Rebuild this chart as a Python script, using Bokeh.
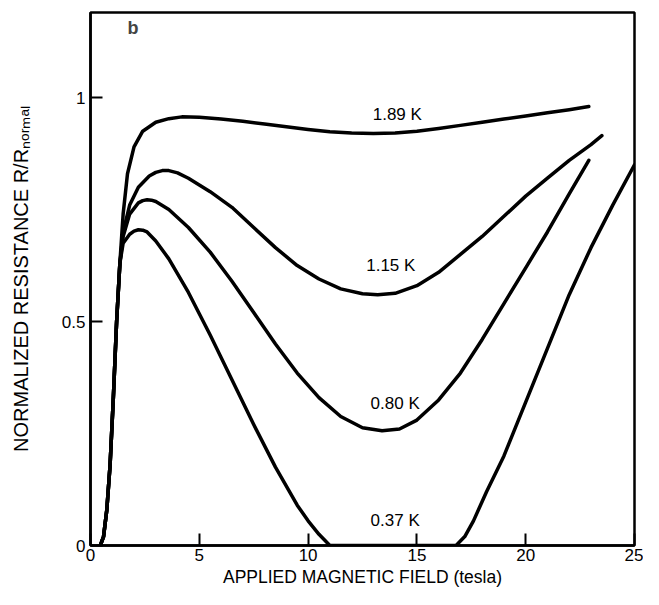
from bokeh.plotting import figure
from bokeh.models import Range1d, Label, FixedTicker, ColumnDataSource
from bokeh.embed import file_html
from bokeh.resources import INLINE
from bokeh.core.properties import value

# ---- data (field in tesla, R/R_normal) ----
field_189 = [0.45, 0.6, 0.75, 0.9, 1.05, 1.2, 1.35, 1.5, 1.7, 2.0, 2.4, 3.0, 3.6, 4.2, 5.0, 6.0, 7.0,
             8.0, 9.0, 10.0, 11.0, 12.0, 13.0, 14.0, 15.0, 16.0, 17.0, 18.0, 19.0, 20.0, 21.0, 22.0, 22.9]
r_189 = [0.0, 0.02, 0.08, 0.18, 0.33, 0.5, 0.63, 0.74, 0.83, 0.89, 0.925, 0.945, 0.953, 0.957, 0.956, 0.952, 0.947,
         0.941, 0.935, 0.929, 0.924, 0.921, 0.92, 0.921, 0.925, 0.931, 0.938, 0.945, 0.952, 0.959, 0.966, 0.973, 0.98]

field_115 = [0.45, 0.6, 0.75, 0.9, 1.05, 1.2, 1.35, 1.5, 1.8, 2.2, 2.7, 3.0, 3.3, 3.6, 4.0, 4.5, 5.5, 6.5, 7.5, 8.5, 9.5,
             10.5, 11.5, 12.5, 13.2, 14.0, 15.0, 16.0, 17.0, 18.0, 19.0, 20.0, 21.0, 22.0, 23.0, 23.5]
r_115 = [0.0, 0.02, 0.08, 0.18, 0.33, 0.5, 0.63, 0.70, 0.76, 0.80, 0.825, 0.833, 0.837, 0.837, 0.832, 0.82, 0.79, 0.755,
         0.71, 0.665, 0.625, 0.595, 0.573, 0.562, 0.56, 0.563, 0.58, 0.61, 0.65, 0.69, 0.735, 0.78, 0.82, 0.86, 0.895, 0.915]

field_080 = [0.45, 0.6, 0.75, 0.9, 1.05, 1.2, 1.35, 1.5, 1.8, 2.2, 2.4, 2.6, 2.8, 3.0, 3.6, 4.5, 5.5, 6.5, 7.5, 8.5, 9.5,
             10.5, 11.5, 12.5, 13.4, 14.2, 15.0, 16.0, 17.0, 18.0, 19.0, 20.0, 21.0, 22.0, 22.9]
r_080 = [0.0, 0.02, 0.08, 0.18, 0.33, 0.5, 0.63, 0.69, 0.74, 0.765, 0.77, 0.772, 0.771, 0.768, 0.75, 0.71, 0.655, 0.59,
         0.52, 0.45, 0.385, 0.33, 0.288, 0.263, 0.256, 0.26, 0.28, 0.325, 0.385, 0.46, 0.54, 0.62, 0.70, 0.785, 0.86]

field_037 = [0.45, 0.6, 0.75, 0.9, 1.05, 1.2, 1.35, 1.5, 1.8, 2.0, 2.2, 2.4, 2.6, 3.0, 3.6, 4.5, 5.5, 6.5, 7.5, 8.5,
             9.5, 10.0, 10.5, 11.0, 12.0, 16.8, 17.2, 17.6, 18.2, 19.0, 20.0, 21.0, 22.0, 23.0, 24.0, 25.0]
r_037 = [0.0, 0.02, 0.08, 0.18, 0.33, 0.5, 0.63, 0.675, 0.695, 0.702, 0.705, 0.704, 0.70, 0.68, 0.64, 0.565, 0.47,
         0.37, 0.27, 0.175, 0.09, 0.055, 0.025, 0.0, 0.0, 0.0, 0.02, 0.055, 0.12, 0.2, 0.32, 0.44, 0.56, 0.665, 0.76, 0.85]

curve_labels = ["1.89 K", "1.15 K", "0.80 K", "0.37 K"]
curve_label_x = [14.1, 13.8, 14.0, 14.0]
curve_label_y = [0.962, 0.626, 0.317, 0.055]

x_ticks = [0, 5, 10, 15, 20, 25]
y_ticks = [0, 0.5, 1]
y_tick_labels = ["0", "0.5", "1"]

x_title = "APPLIED MAGNETIC FIELD (tesla)"
y_title = "NORMALIZED RESISTANCE R/R\u2099\u2092\u1d63\u2098\u2090\u2097"
panel_tag = "b"

FONT = "Liberation Sans"

p = figure(width=643, height=589, x_range=Range1d(0, 25), y_range=Range1d(0, 1.19),
           output_backend="svg", toolbar_location=None,
           min_border_left=90, min_border_right=9, min_border_top=12, min_border_bottom=44)
p.background_fill_color = "white"
p.border_fill_color = "white"
p.xgrid.grid_line_color = None
p.ygrid.grid_line_color = None
p.outline_line_color = "black"
p.outline_line_width = 2.5
p.outline_line_alpha = 1.0

p.xaxis.ticker = FixedTicker(ticks=x_ticks)
p.yaxis.ticker = FixedTicker(ticks=y_ticks)
p.yaxis.major_label_overrides = {t: s for t, s in zip(y_ticks, y_tick_labels)}
for ax in (p.xaxis, p.yaxis):
    ax.axis_line_width = 2.5
    ax.axis_line_color = "black"
    ax.major_tick_in = 12
    ax.major_tick_out = 0
    ax.major_tick_line_width = 2
    ax.major_tick_line_color = "black"
    ax.minor_tick_line_color = None
    ax.major_label_text_font = FONT
    ax.major_label_text_font_size = "17px"
    ax.major_label_text_color = "black"
    ax.axis_label_text_font = FONT
    ax.axis_label_text_font_style = "normal"
    ax.axis_label_text_color = "black"

p.xaxis.axis_label = x_title
p.xaxis.axis_label_text_font_size = "17.5px"
p.xaxis.major_label_standoff = 3
p.xaxis.axis_label_standoff = 3
p.yaxis.axis_label = y_title
p.yaxis.axis_label_text_font_size = "20px"
p.yaxis.major_label_standoff = 5
p.yaxis.axis_label_standoff = 27

for fx, fy in [(field_189, r_189), (field_115, r_115), (field_080, r_080), (field_037, r_037)]:
    p.line(fx, fy, line_color="black", line_width=3.5, line_join="round", line_cap="round")

src = ColumnDataSource(dict(x=curve_label_x, y=curve_label_y, t=curve_labels))
p.text(x="x", y="y", text="t", source=src, text_font=value(FONT), text_font_size="17px",
       text_align="center", text_baseline="middle", text_color="black")

p.add_layout(Label(x=1.95, y=1.155, text=panel_tag, text_font=FONT, text_font_size="18px",
                   text_font_style="bold", text_align="center", text_baseline="middle"))

open("out.html", "w").write(file_html(p, INLINE))
